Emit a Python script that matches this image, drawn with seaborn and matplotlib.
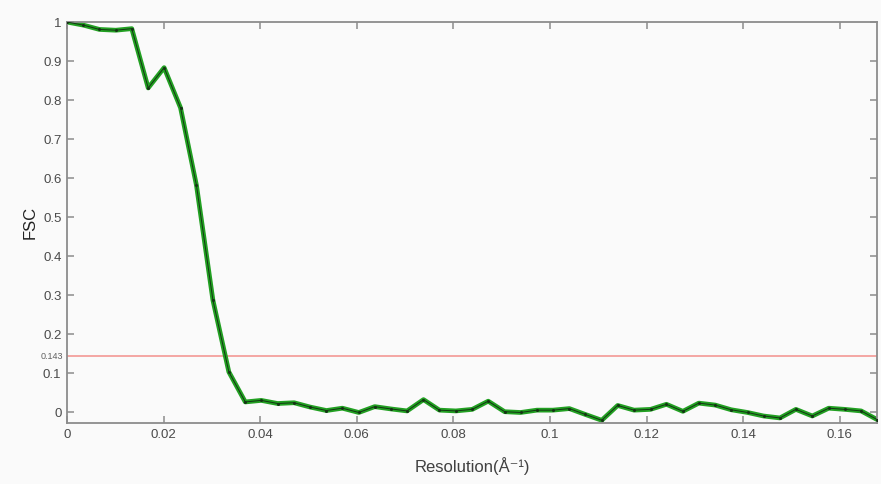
import numpy as np
import pandas as pd
import seaborn as sns
import matplotlib
matplotlib.use("Agg")
import matplotlib.pyplot as plt

# FSC curve (spacing ~0.00335 1/A)
resolution = [0.0, 0.0034, 0.0067, 0.0101, 0.0134, 0.0168, 0.0201, 0.0235,
              0.0268, 0.0302, 0.0335, 0.0369, 0.0402, 0.0436, 0.0470, 0.0503,
              0.0537, 0.0570, 0.0604, 0.0637, 0.0671, 0.0704, 0.0738, 0.0771,
              0.0805, 0.0839, 0.0872, 0.0906, 0.0939, 0.0973, 0.1006, 0.1040,
              0.1073, 0.1107, 0.1140, 0.1174, 0.1208, 0.1241, 0.1275, 0.1308,
              0.1342, 0.1375, 0.1409, 0.1442, 0.1476, 0.1509, 0.1543, 0.1577,
              0.1610, 0.1644, 0.1677]
fsc = [1.0, 0.992, 0.981, 0.979, 0.983, 0.831, 0.883, 0.78,
       0.581, 0.287, 0.103, 0.026, 0.030, 0.022, 0.024, 0.013,
       0.004, 0.010, -0.001, 0.014, 0.008, 0.003, 0.032, 0.005,
       0.003, 0.007, 0.028, 0.001, -0.001, 0.005, 0.005, 0.009,
       -0.006, -0.021, 0.017, 0.005, 0.007, 0.020, 0.002, 0.023,
       0.018, 0.006, -0.001, -0.010, -0.015, 0.007, -0.010, 0.010,
       0.007, 0.003, -0.019]
threshold = 0.143

df = pd.DataFrame({"res": resolution, "fsc": fsc})

sns.set_style("ticks")
plt.rcParams['font.family'] = ['Liberation Sans', 'DejaVu Sans']

fig = plt.figure(figsize=(8.81, 4.84), dpi=100, facecolor="#fafafa")
ax = fig.add_axes([0.0761, 0.126, 0.9194, 0.8285])
ax.set_facecolor("#fafafa")

# threshold line
ax.axhline(threshold, color="#f4a09c", lw=1.3, zorder=1)

# green outer line + thin dark centre with dots
sns.lineplot(data=df, x="res", y="fsc", ax=ax, color="#22a022", lw=3.4, zorder=2)
sns.lineplot(data=df, x="res", y="fsc", ax=ax, color="#143514", lw=0.7,
             marker="o", markersize=2.2, markeredgewidth=0, zorder=3)

ax.set_xlim(0, 0.1677)
ax.set_ylim(-0.028, 1.0)
ax.set_xticks(np.arange(0, 0.161, 0.02))
ax.set_xticklabels(["0", "0.02", "0.04", "0.06", "0.08", "0.1", "0.12", "0.14", "0.16"])
ax.set_yticks(np.arange(0, 1.01, 0.1))
ax.set_yticklabels(["0", "0.1", "0.2", "0.3", "0.4", "0.5", "0.6", "0.7", "0.8", "0.9", "1"])

for s in ax.spines.values():
    s.set_color("#8c8c8c")
    s.set_linewidth(1.3)
ax.tick_params(direction="in", top=True, right=True, length=5, width=1.1,
               color="#8c8c8c", labelsize=9.5, labelcolor="#4a4a4a", pad=4)

ax.text(-0.0008, threshold, "0.143", ha="right", va="center", fontsize=6.5,
        color="#606060")

ax.set_xlabel("Resolution(Å⁻¹)", fontsize=12, color="#404040", labelpad=12)
ax.set_ylabel("FSC", fontsize=12, color="#222222", labelpad=4)

fig.savefig("out.png", dpi=100, facecolor=fig.get_facecolor())
